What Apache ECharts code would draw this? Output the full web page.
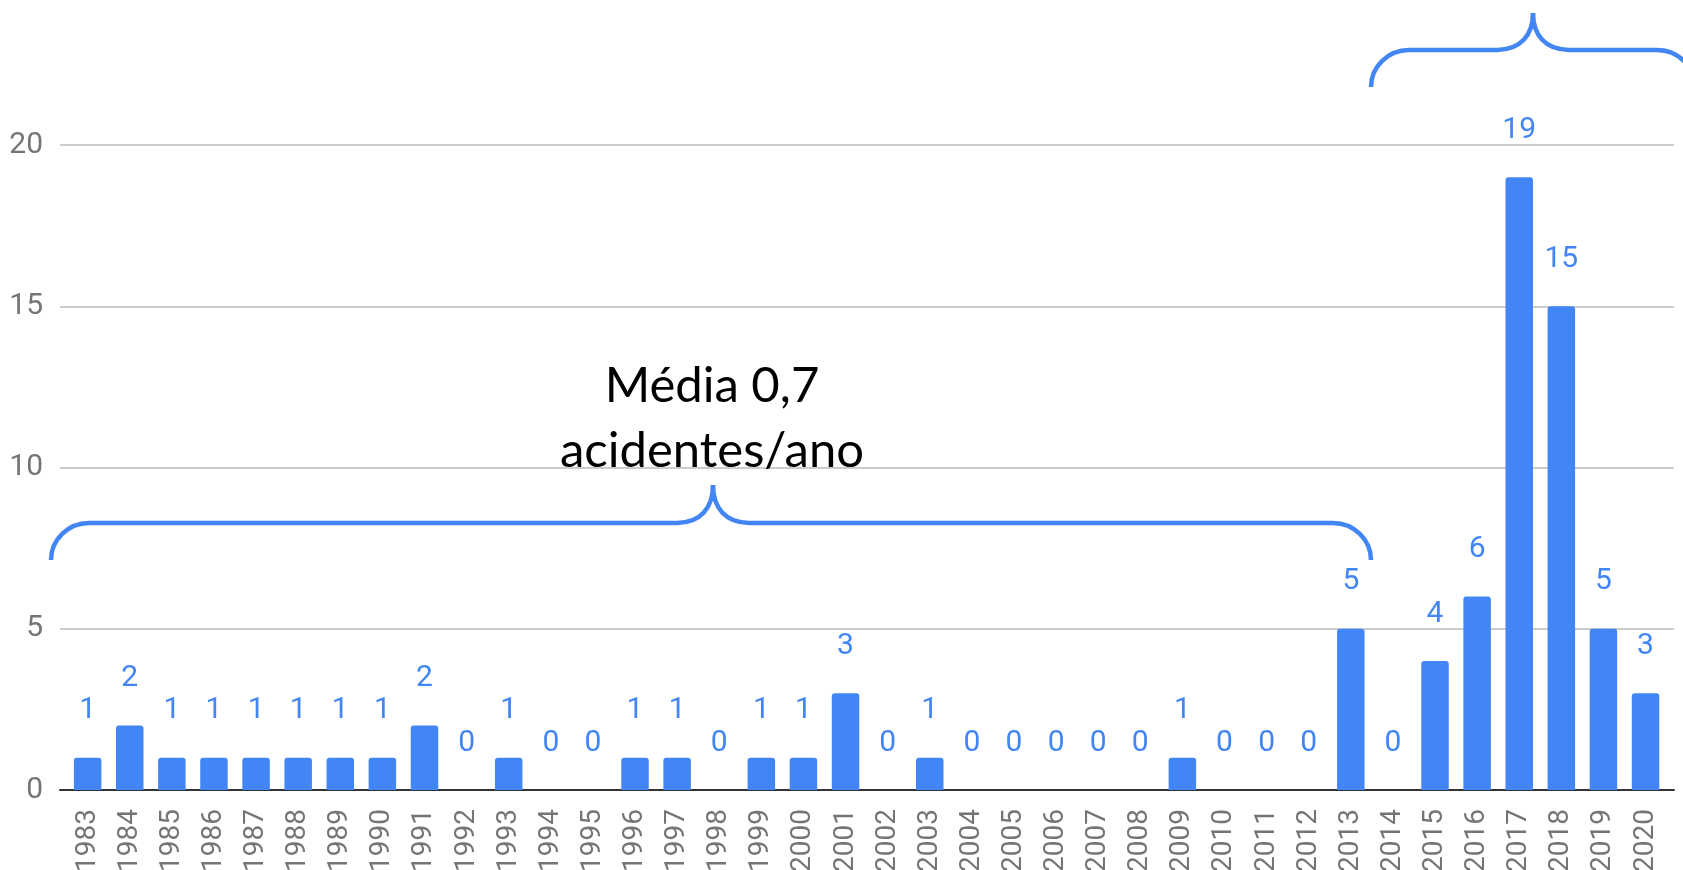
<!DOCTYPE html>
<html>
<head>
<meta charset="utf-8">
<script src="https://cdn.jsdelivr.net/npm/echarts@6/dist/echarts.min.js"></script>
<style>
html,body{margin:0;padding:0;background:#fff;}
#chart{width:1683px;height:870px;}
</style>
</head>
<body>
<div id="chart"></div>
<script>
const years = ['1983','1984','1985','1986','1987','1988','1989','1990','1991','1992','1993','1994','1995','1996','1997','1998','1999','2000','2001','2002','2003','2004','2005','2006','2007','2008','2009','2010','2011','2012','2013','2014','2015','2016','2017','2018','2019','2020'];
const accidents = [1,2,1,1,1,1,1,1,2,0,1,0,0,1,1,0,1,1,3,0,1,0,0,0,0,0,1,0,0,0,5,0,4,6,19,15,5,3];
const yTicks = [0,5,10,15,20];
const annotationLines = ['Média 0,7', 'acidentes/ano'];

const BLUE = '#4285f4';
const braceStyle = {stroke: BLUE, lineWidth: 4.5, fill: null};

// brace decoration built from curves and lines (end x left, tip x, end x right, end y, line y, tip y)
function brace(xl, xt, xr, yEnd, yLine, yTip) {
  const r = 38, t = 36;
  const els = [];
  els.push({type: 'bezierCurve', z: 10, shape: {x1: xl, y1: yEnd, cpx1: xl, cpy1: yLine + (yEnd - yLine) * 0.45, cpx2: xl + r * 0.45, cpy2: yLine, x2: xl + r, y2: yLine}, style: braceStyle});
  els.push({type: 'line', z: 10, shape: {x1: xl + r, y1: yLine, x2: xt - t, y2: yLine}, style: braceStyle});
  els.push({type: 'bezierCurve', z: 10, shape: {x1: xt - t, y1: yLine, cpx1: xt - t * 0.35, cpy1: yLine, cpx2: xt, cpy2: yLine - (yLine - yTip) * 0.4, x2: xt, y2: yTip}, style: braceStyle});
  els.push({type: 'bezierCurve', z: 10, shape: {x1: xt + t, y1: yLine, cpx1: xt + t * 0.35, cpy1: yLine, cpx2: xt, cpy2: yLine - (yLine - yTip) * 0.4, x2: xt, y2: yTip}, style: braceStyle});
  els.push({type: 'line', z: 10, shape: {x1: xt + t, y1: yLine, x2: xr - r, y2: yLine}, style: braceStyle});
  els.push({type: 'bezierCurve', z: 10, shape: {x1: xr, y1: yEnd, cpx1: xr, cpy1: yLine + (yEnd - yLine) * 0.45, cpx2: xr - r * 0.45, cpy2: yLine, x2: xr - r, y2: yLine}, style: braceStyle});
  return els;
}

const chart = echarts.init(document.getElementById('chart'));
chart.setOption({
  animation: false,
  backgroundColor: '#fff',
  grid: [
    {left: 66.6, right: 16.4, top: 145, bottom: 80, containLabel: false, outerBoundsMode: 'none'},
    {left: 60, right: 9, top: 145, bottom: 80, containLabel: false, outerBoundsMode: 'none'}
  ],
  xAxis: [
    {
      type: 'category', gridIndex: 0, data: years,
      axisLine: {show: false}, axisTick: {show: false},
      axisLabel: {rotate: 90, margin: 19, color: '#757575', fontFamily: 'Roboto', fontSize: 28, interval: 0}
    },
    {
      type: 'value', gridIndex: 1, min: 0, max: 1,
      axisLine: {show: true, onZero: false, lineStyle: {color: '#333', width: 2}},
      axisTick: {show: false}, axisLabel: {show: false}, splitLine: {show: false}
    }
  ],
  yAxis: [
    {
      type: 'value', gridIndex: 0, min: 0, max: 20, interval: 5,
      axisLine: {show: false}, axisTick: {show: false}, axisLabel: {show: false}, splitLine: {show: false}
    },
    {
      type: 'value', gridIndex: 1, min: yTicks[0], max: yTicks[yTicks.length - 1], interval: 5,
      axisLine: {show: false}, axisTick: {show: false},
      axisLabel: {margin: 17, color: '#757575', fontFamily: 'Roboto', fontSize: 30},
      splitLine: {lineStyle: {color: '#cccccc', width: 2}}
    }
  ],
  series: [{
    type: 'bar', xAxisIndex: 0, yAxisIndex: 0,
    data: accidents,
    barWidth: 27.5,
    itemStyle: {color: BLUE, borderRadius: [3, 3, 0, 0]},
    label: {show: true, position: 'top', distance: 32, color: BLUE, fontFamily: 'Roboto', fontSize: 30},
    z: 3
  }],
  graphic: [].concat(
    brace(51, 713, 1371, 560, 523, 485),
    brace(1371, 1533, 1695, 87, 50, 13),
    [
      {type: 'text', z: 10, x: 712, y: 386,
       style: {text: annotationLines[0], fill: '#000', font: '49px Lato', textAlign: 'center', textVerticalAlign: 'middle'}},
      {type: 'text', z: 10, x: 712, y: 451,
       style: {text: annotationLines[1], fill: '#000', font: '49px Lato', textAlign: 'center', textVerticalAlign: 'middle'}}
    ]
  )
});
</script>
</body>
</html>
